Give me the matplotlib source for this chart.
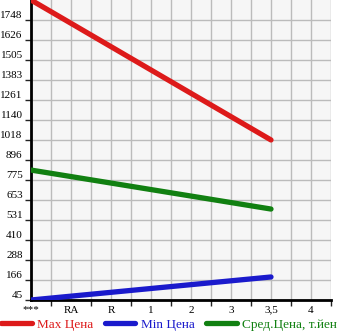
import matplotlib
matplotlib.use("Agg")
import matplotlib.pyplot as plt
from matplotlib.ticker import MultipleLocator

# x categories (engine volume)
categories = ['***', 'RA', 'R', '1', '2', '3', '3,5', '4']
# the series only have values at '***' and '3,5'
series_pos = [0, 6]
max_price = [1869, 1018]
min_price = [45, 185]
avg_price = [835, 598]

y_ticks = [45, 166.6, 288.2, 409.8, 531.4, 653, 774.6, 896.2, 1017.8,
           1139.4, 1261, 1382.6, 1504.2, 1625.8, 1747.4]
y_labels = ['45', '166', '288', '410', '531', '653', '775', '896', '1018',
            '1140', '1261', '1383', '1505', '1626', '1748']

fig = plt.figure(figsize=(3.45, 3.35), dpi=100)
ax = fig.add_axes([31 / 345, 35 / 335, 300 / 345, 300 / 335])
ax.set_facecolor('#f6f6f6')

ax.plot(series_pos, max_price, color='#dd1a1a', lw=3.8, solid_capstyle='round', label='Max Цена', zorder=3)
ax.plot(series_pos, min_price, color='#1a1acc', lw=3.8, solid_capstyle='round', label='Min Цена', zorder=3)
ax.plot(series_pos, avg_price, color='#118011', lw=3.8, solid_capstyle='round', label='Сред.Цена, т.йен', zorder=3)

ax.set_xlim(0, 7.5)
ax.set_ylim(45, 1869)

ax.set_xticks(range(len(categories)))
ax.set_xticklabels(categories, family='Liberation Serif', fontsize=8)
ax.xaxis.set_minor_locator(MultipleLocator(0.5))
ax.tick_params(axis='x', which='major', length=0, pad=4)
ax.tick_params(axis='x', which='minor', length=4, width=1, color='#222222')

ax.set_yticks(y_ticks)
ax.set_yticklabels(y_labels, family='Liberation Serif', fontsize=8)
ax.tick_params(axis='y', length=4, width=1, color='#222222', pad=2)
for lbl in ax.get_yticklabels():
    lbl.set_verticalalignment('bottom')

ax.grid(True, which='both', axis='x', color='#bbbbbb', lw=1)
ax.grid(True, which='major', axis='y', color='#bbbbbb', lw=1)
ax.set_axisbelow(True)

for s in ['top', 'right']:
    ax.spines[s].set_visible(False)
for s in ['left', 'bottom']:
    ax.spines[s].set_linewidth(2)
    ax.spines[s].set_color('black')

leg = fig.legend(loc='lower center', bbox_to_anchor=(0.49, -0.015), ncol=3, frameon=False,
                 prop={'family': 'Liberation Serif', 'size': 9.5},
                 handlelength=2.3, handletextpad=0.4, columnspacing=0.9, borderpad=0.2)
for text, line in zip(leg.get_texts(), leg.get_lines()):
    text.set_color(line.get_color())

fig.savefig('out.png', dpi=100)
